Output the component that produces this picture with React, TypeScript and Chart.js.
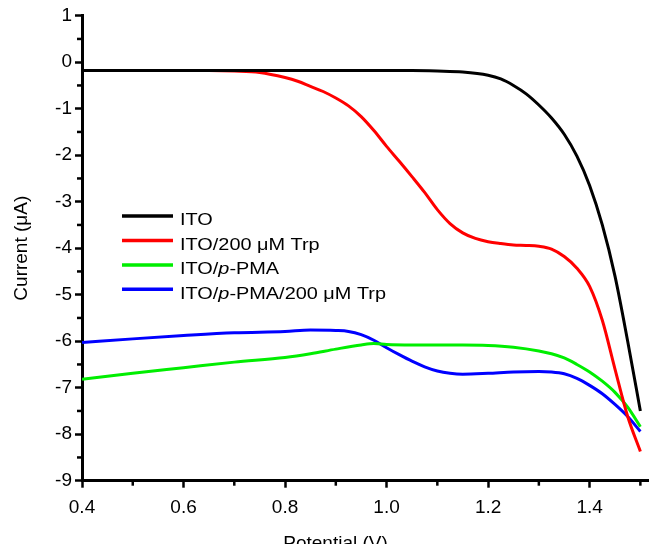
import React, { useEffect, useRef } from 'react';
import { Chart, registerables } from 'chart.js';

Chart.register(...registerables);

// ---- data ----
const blackX = [0.4, 0.5, 0.6, 0.7, 0.8, 0.9, 1.0, 1.05, 1.1, 1.15, 1.2, 1.225, 1.25, 1.275, 1.3, 1.325, 1.35, 1.375, 1.4, 1.425, 1.45, 1.475, 1.5];
const blackY = [-0.18, -0.18, -0.18, -0.18, -0.18, -0.18, -0.18, -0.18, -0.19, -0.21, -0.28, -0.36, -0.5, -0.68, -0.92, -1.2, -1.55, -2.02, -2.65, -3.5, -4.6, -6.0, -7.5];

const redX = [0.4, 0.5, 0.6, 0.65, 0.7, 0.75, 0.8, 0.825, 0.85, 0.875, 0.9, 0.925, 0.95, 0.975, 1.0, 1.025, 1.05, 1.075, 1.1, 1.125, 1.15, 1.175, 1.2, 1.225, 1.25, 1.275, 1.3, 1.325, 1.35, 1.375, 1.4, 1.425, 1.45, 1.475, 1.5];
const redY = [-0.18, -0.18, -0.18, -0.18, -0.19, -0.22, -0.33, -0.41, -0.52, -0.63, -0.77, -0.94, -1.17, -1.47, -1.81, -2.13, -2.46, -2.8, -3.17, -3.47, -3.67, -3.79, -3.86, -3.9, -3.93, -3.94, -3.96, -4.02, -4.18, -4.43, -4.82, -5.55, -6.6, -7.62, -8.37];

const greenX = [0.4, 0.5, 0.6, 0.7, 0.8, 0.85, 0.9, 0.95, 0.975, 1.0, 1.05, 1.1, 1.15, 1.2, 1.25, 1.3, 1.325, 1.35, 1.375, 1.4, 1.425, 1.45, 1.475, 1.5];
const greenY = [-6.82, -6.69, -6.57, -6.45, -6.35, -6.27, -6.17, -6.08, -6.05, -6.07, -6.08, -6.08, -6.08, -6.09, -6.13, -6.21, -6.27, -6.36, -6.5, -6.66, -6.86, -7.1, -7.42, -7.84];

const blueX = [0.4, 0.5, 0.6, 0.7, 0.8, 0.85, 0.9, 0.925, 0.95, 0.975, 1.0, 1.025, 1.05, 1.075, 1.1, 1.125, 1.15, 1.2, 1.25, 1.3, 1.325, 1.35, 1.375, 1.4, 1.425, 1.45, 1.475, 1.5];
const blueY = [-6.03, -5.95, -5.88, -5.82, -5.79, -5.76, -5.77, -5.79, -5.86, -5.98, -6.14, -6.29, -6.43, -6.55, -6.64, -6.69, -6.71, -6.69, -6.66, -6.65, -6.66, -6.7, -6.8, -6.95, -7.13, -7.36, -7.62, -7.94];

const seriesLabels = ['ITO', 'ITO/200 \u03bcM Trp', 'ITO/p-PMA', 'ITO/p-PMA/200 \u03bcM Trp'];
// legend label pieces: [text, italic]
const legendParts: [string, boolean][][] = [
  [['ITO', false]],
  [['ITO/200 \u03bcM Trp', false]],
  [['ITO/', false], ['p', true], ['-PMA', false]],
  [['ITO/', false], ['p', true], ['-PMA/200 \u03bcM Trp', false]],
];
const seriesColors = ['#000000', '#ff0000', '#00ee00', '#0000ff'];

const xTicks = [0.4, 0.6, 0.8, 1.0, 1.2, 1.4];
const xMinorTicks = [0.5, 0.7, 0.9, 1.1, 1.3, 1.5];
const yTicks = [1, 0, -1, -2, -3, -4, -5, -6, -7, -8, -9];
const yMinorTicks = [0.5, -0.5, -1.5, -2.5, -3.5, -4.5, -5.5, -6.5, -7.5, -8.5];
const xTitle = 'Potential (V)';
const yTitle = 'Current (\u03bcA)';

const FONT = '"Liberation Sans", Arial, Helvetica, sans-serif';

const toPoints = (xs: number[], ys: number[]) => xs.map((x, i) => ({ x, y: ys[i] }));

const overlayPlugin = {
  id: 'overlay',
  afterDraw(chart: any) {
    const ctx = chart.ctx as CanvasRenderingContext2D;
    const xs = chart.scales.x;
    const ys = chart.scales.y;
    ctx.save();
    // minor ticks
    ctx.strokeStyle = '#000';
    ctx.lineWidth = 2.5;
    for (const v of xMinorTicks) {
      const px = xs.getPixelForValue(v);
      ctx.beginPath();
      ctx.moveTo(px, xs.top);
      ctx.lineTo(px, xs.top + 5);
      ctx.stroke();
    }
    for (const v of yMinorTicks) {
      const py = ys.getPixelForValue(v);
      ctx.beginPath();
      ctx.moveTo(ys.right, py);
      ctx.lineTo(ys.right - 5, py);
      ctx.stroke();
    }
    // x title
    ctx.fillStyle = '#000';
    ctx.font = `19px ${FONT}`;
    ctx.textAlign = 'center';
    ctx.textBaseline = 'alphabetic';
    ctx.fillText(xTitle, 335.5, 549);

    // legend
    const rowY = [216, 240.5, 265, 289.3];
    const sx = 1.17;
    ctx.lineCap = 'butt';
    legendParts.forEach((parts, i) => {
      const y = rowY[i];
      ctx.strokeStyle = seriesColors[i];
      ctx.lineWidth = 3.5;
      ctx.beginPath();
      ctx.moveTo(122, y);
      ctx.lineTo(173, y);
      ctx.stroke();
      ctx.save();
      ctx.translate(180, y + 9.2);
      ctx.scale(sx, 1);
      ctx.textAlign = 'left';
      ctx.fillStyle = '#000';
      let off = 0;
      for (const [t, it] of parts) {
        ctx.font = `${it ? 'italic ' : ''}17px ${FONT}`;
        ctx.fillText(t, off, 0);
        off += ctx.measureText(t).width;
      }
      ctx.restore();
    });
    ctx.restore();
  },
};

export default function App() {
  const ref = useRef<HTMLCanvasElement | null>(null);
  useEffect(() => {
    if (!ref.current) return;
    const chart = new Chart(ref.current, {
      type: 'line',
      data: {
        datasets: [
          { label: seriesLabels[0], data: toPoints(blackX, blackY), borderColor: seriesColors[0] },
          { label: seriesLabels[1], data: toPoints(redX, redY), borderColor: seriesColors[1] },
          { label: seriesLabels[2], data: toPoints(greenX, greenY), borderColor: seriesColors[2] },
          { label: seriesLabels[3], data: toPoints(blueX, blueY), borderColor: seriesColors[3] },
        ].map((d) => ({
          ...d,
          borderWidth: 3,
          pointRadius: 0,
          fill: false,
          cubicInterpolationMode: 'monotone' as const,
        })),
      },
      options: {
        animation: false,
        responsive: false,
        devicePixelRatio: 1,
        layout: { padding: { top: 15.7, right: 0, bottom: 0, left: 0 } },
        plugins: { legend: { display: false }, tooltip: { enabled: false }, title: { display: false } },
        scales: {
          x: {
            type: 'linear',
            min: 0.4,
            max: 1.517,
            afterBuildTicks: (s: any) => { s.ticks = xTicks.map((v) => ({ value: v })); },
            afterFit: (s: any) => { s.height = 544 - 15.7 - 465; },
            border: { display: true, color: '#000', width: 3 },
            grid: { display: true, drawOnChartArea: false, drawTicks: true, tickLength: 7, tickWidth: 2.5, tickColor: '#000', color: '#000' },
            ticks: {
              color: '#000',
              font: { size: 19, family: FONT },
              padding: 9,
              maxRotation: 0,
              autoSkip: false,
              callback: (v: any) => Number(v).toFixed(1),
            },
            title: { display: false },
          },
          y: {
            type: 'linear',
            min: -9,
            max: 1,
            afterBuildTicks: (s: any) => { s.ticks = yTicks.map((v) => ({ value: v })); },
            afterFit: (s: any) => { s.width = 82; },
            border: { display: true, color: '#000', width: 3 },
            grid: { display: true, drawOnChartArea: false, drawTicks: true, tickLength: 7, tickWidth: 2.5, tickColor: '#000', color: '#000' },
            ticks: {
              color: '#000',
              font: { size: 19, family: FONT },
              padding: 3,
              autoSkip: false,
              callback: (v: any) => `${v}`,
            },
            title: {
              display: true,
              text: yTitle,
              color: '#000',
              font: { size: 19, family: FONT },
              padding: { top: 10.6, bottom: 0 },
            },
          },
        },
      },
      plugins: [overlayPlugin],
    });
    return () => chart.destroy();
  }, []);
  return (
    <div style={{ position: 'fixed', left: 0, top: 0, width: 649, height: 544, background: '#fff' }}>
      <canvas ref={ref} width={649} height={544} style={{ display: 'block', width: 649, height: 544 }} />
    </div>
  );
}
